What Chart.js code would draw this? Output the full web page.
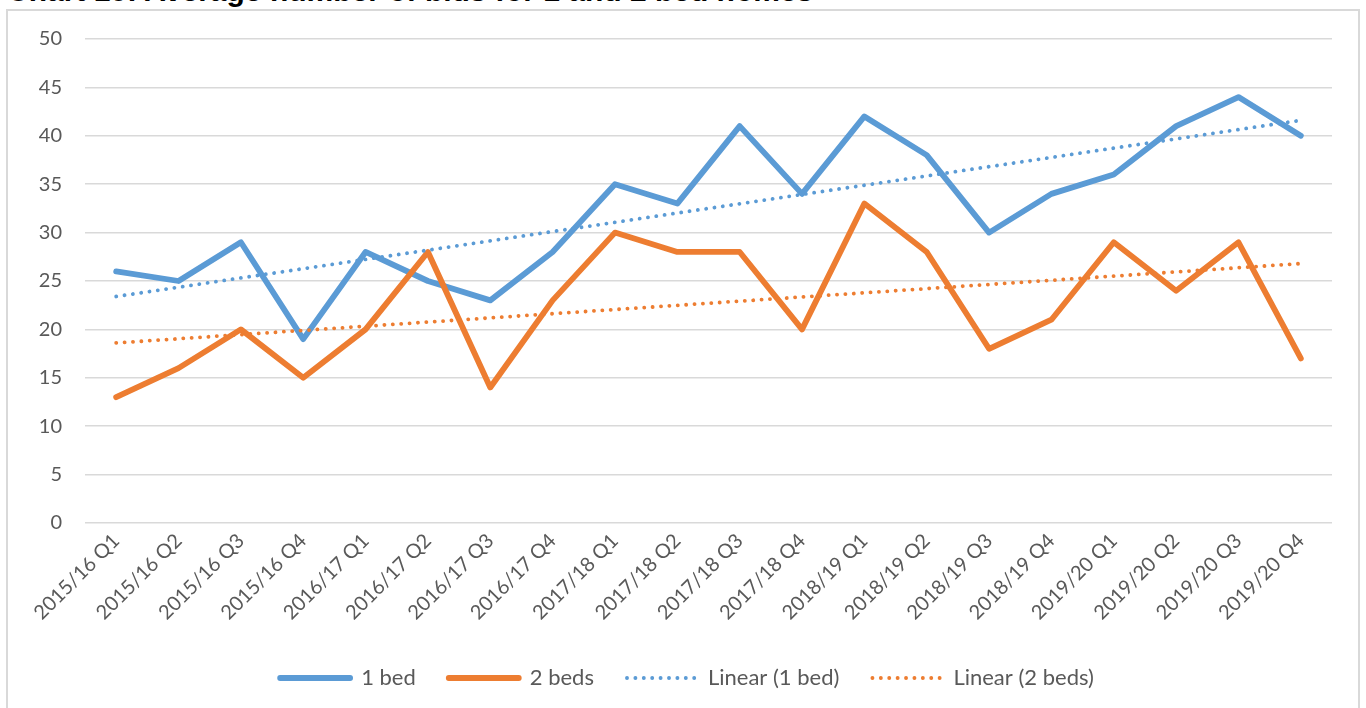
<!DOCTYPE html>
<html>
<head>
<meta charset="utf-8">
<script src="https://cdn.jsdelivr.net/npm/chart.js@4.4.1/dist/chart.umd.min.js"></script>
<style>
  html, body { margin: 0; padding: 0; background: #fff; overflow: hidden; }
  body { width: 1366px; height: 708px; position: relative; }
  #title { position: absolute; left: 7px; top: -24px; font: bold 30px "Liberation Sans", Arial, sans-serif; line-height: 30px; color: #000; white-space: nowrap; }
  #frame { position: absolute; left: 6px; top: 9px; width: 1354px; height: 720px; border: 2px solid #d9d9d9; box-sizing: border-box; background: #fff; }
  #wrap { position: absolute; left: 8px; top: 11px; width: 1350px; height: 697px; }
</style>
</head>
<body>
<div id="title">Chart 10: Average number of bids for 1 and 2 bed homes</div>
<div id="frame"></div>
<div id="wrap"><canvas id="c"></canvas></div>
<script>
const categories = ["2015/16 Q1","2015/16 Q2","2015/16 Q3","2015/16 Q4","2016/17 Q1","2016/17 Q2","2016/17 Q3","2016/17 Q4","2017/18 Q1","2017/18 Q2","2017/18 Q3","2017/18 Q4","2018/19 Q1","2018/19 Q2","2018/19 Q3","2018/19 Q4","2019/20 Q1","2019/20 Q2","2019/20 Q3","2019/20 Q4"];
const oneBed = [26,25,29,19,28,25,23,28,35,33,41,34,42,38,30,34,36,41,44,40];
const twoBeds = [13,16,20,15,20,28,14,23,30,28,28,20,33,28,18,21,29,24,29,17];
// trend line end points (first and last quarter)
const trendOneBed = [23.4, 41.6];
const trendTwoBeds = [18.6, 26.8];
const yTicks = [0,5,10,15,20,25,30,35,40,45,50];

function endpoints(pair) {
  return categories.map((c, i) => i === 0 ? pair[0] : (i === categories.length - 1 ? pair[1] : null));
}

const BLUE = '#5b9bd5', ORANGE = '#ed7d31';
const tickFont = { family: 'Lato, "Open Sans", sans-serif', size: 20 };
const legendFont = { family: 'Lato, "Open Sans", sans-serif', size: 22 };

const legendShift = {
  id: 'legendShift',
  afterLayout(chart) {
    if (chart.legend) { chart.legend.left += 17; chart.legend.right += 17; }
  }
};

new Chart(document.getElementById('c'), {
  type: 'line',
  data: {
    labels: categories,
    datasets: [
      { label: '1 bed', data: oneBed, borderColor: BLUE, backgroundColor: BLUE, borderWidth: 5.8, pointRadius: 0, borderJoinStyle: 'round', borderCapStyle: 'round', order: 4, tension: 0 },
      { label: '2 beds', data: twoBeds, borderColor: ORANGE, backgroundColor: ORANGE, borderWidth: 5.8, pointRadius: 0, borderJoinStyle: 'round', borderCapStyle: 'round', order: 3, tension: 0 },
      { label: 'Linear (1 bed)', data: endpoints(trendOneBed), spanGaps: true, borderColor: BLUE, backgroundColor: BLUE, borderWidth: 3.8, borderDash: [0.1, 8.3], borderCapStyle: 'round', pointRadius: 0, order: 2 },
      { label: 'Linear (2 beds)', data: endpoints(trendTwoBeds), spanGaps: true, borderColor: ORANGE, backgroundColor: ORANGE, borderWidth: 3.8, borderDash: [0.1, 8.3], borderCapStyle: 'round', pointRadius: 0, order: 1 }
    ]
  },
  plugins: [legendShift],
  options: {
    responsive: true,
    maintainAspectRatio: false,
    animation: false,
    layout: { padding: { top: 28, right: 26, left: 0, bottom: 9 } },
    plugins: {
      title: { display: false },
      tooltip: { enabled: false },
      legend: {
        position: 'bottom',
        labels: {
          usePointStyle: true,
          pointStyle: 'line',
          pointStyleWidth: 70,
          boxHeight: 22,
          padding: 33,
          color: '#595959',
          font: legendFont,
          sort: (a, b) => a.datasetIndex - b.datasetIndex,
          generateLabels: (chart) => {
            const items = Chart.defaults.plugins.legend.labels.generateLabels(chart);
            items.forEach(it => {
              const ds = chart.data.datasets[it.datasetIndex];
              it.lineDash = ds.borderDash || [];
              it.lineCap = ds.borderCapStyle || 'butt';
              it.lineWidth = ds.borderWidth;
              it.strokeStyle = ds.borderColor;
              it.pointStyle = 'line';
            });
            return items;
          }
        }
      }
    },
    scales: {
      x: {
        offset: true,
        grid: { display: false, drawTicks: false },
        border: { display: false },
        ticks: { autoSkip: false, minRotation: 45, maxRotation: 45, padding: 6, color: '#595959', font: tickFont },
        afterFit: (s) => { s.height = 111; }
      },
      y: {
        min: 0, max: 50,
        afterBuildTicks: (s) => { s.ticks = yTicks.map(v => ({ value: v })); },
        grid: { color: '#d9d9d9', lineWidth: 1.5, drawTicks: false },
        border: { display: false },
        ticks: { padding: 23, color: '#595959', font: tickFont },
        afterFit: (s) => { s.width = 77; s.paddingTop = 0; s.paddingBottom = 0; }
      }
    }
  }
});
</script>
</body>
</html>
